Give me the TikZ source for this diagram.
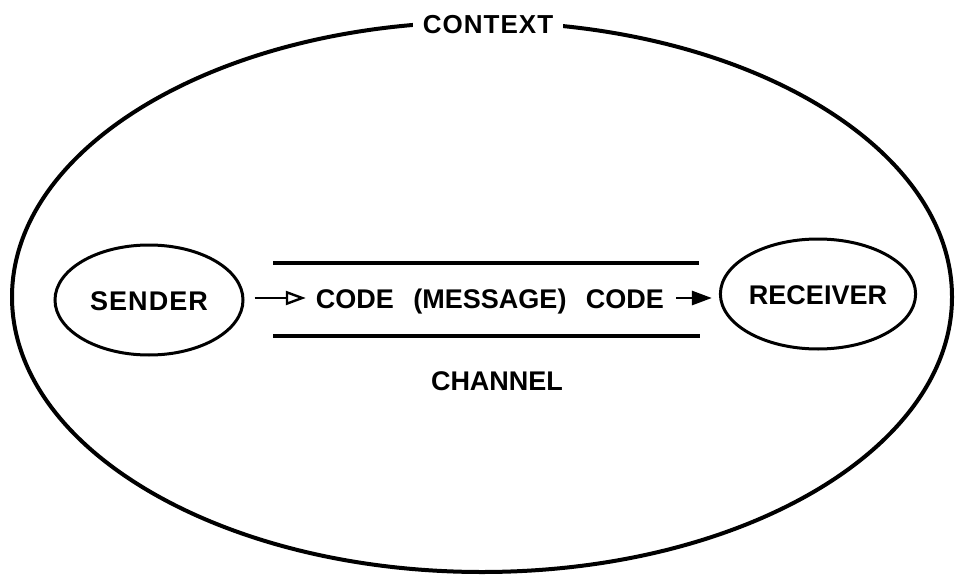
\documentclass[tikz,border=0pt]{standalone}
\usepackage{fontspec}
\setmainfont{Liberation Sans}
\newfontfamily\widefont[LetterSpace=4]{Liberation Sans}
\usetikzlibrary{shapes.geometric,arrows.meta}
\begin{document}
\begin{tikzpicture}[x=1pt,y=-1pt,
  lbl/.style={font=\fontsize{27}{30}\selectfont\bfseries, text height=20pt, text depth=0pt},
  oval/.style={ellipse, draw, line width=3pt, minimum width=188pt, minimum height=110pt, inner sep=0pt, lbl},
  rulel/.style={line width=3.4pt},
  arrA/.style={line width=2.8pt, -{Triangle[open,length=20pt,width=14pt,line width=2.4pt]}},
  arrB/.style={line width=2.8pt, -{Triangle[length=20pt,width=14pt]}}]
\useasboundingbox (0,0) rectangle (955,575);
% context ellipse
\node[ellipse, draw, line width=4pt, minimum width=940pt, minimum height=550pt, inner sep=0pt] (ctx) at (482,297) {};
\node[lbl, fill=white, inner xsep=10pt, inner ysep=3pt, font=\widefont\fontsize{26}{30}\selectfont\bfseries] (ctxlbl) at (488,24) {CONTEXT};
% sender / receiver
\node[oval, font=\widefont\fontsize{27}{30}\selectfont\bfseries] (sender) at (149,300) {SENDER};
\node[oval] (receiver) at (818,294) {RECEIVER};
% message
\node[lbl, inner xsep=0pt] (msg) at (490,298) {CODE\hspace{12pt} (MESSAGE)\hspace{12pt} CODE};
% channel lines
\draw[rulel] (273,263) -- (699,263);
\draw[rulel] (273,336) -- (700,336);
\node[lbl] (channel) at (497,380) {CHANNEL};
% arrows
\draw[arrA, shorten <=10pt, shorten >=10pt] (msg.west -| sender.east) -- (msg.west);
\draw[arrB, shorten <=12pt, shorten >=7pt] (msg.east) -- (msg.east -| receiver.west);
\end{tikzpicture}
\end{document}
